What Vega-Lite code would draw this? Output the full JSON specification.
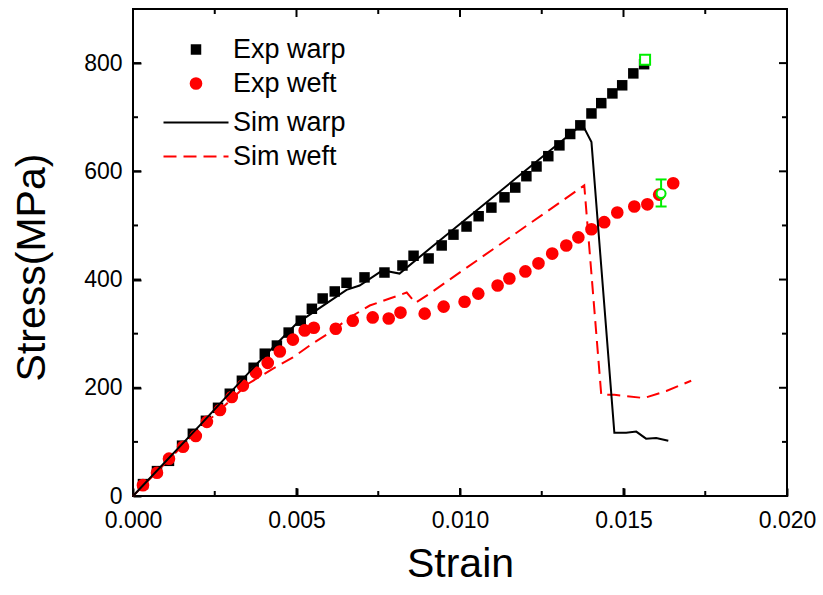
{
  "$schema": "https://vega.github.io/schema/vega-lite/v6.json",
  "width": 654,
  "height": 487,
  "autosize": {"type": "none"},
  "padding": {"left": 133, "top": 9, "right": 36, "bottom": 99},
  "background": "white",
  "datasets": {
    "warpExp": [
      {"series": "Exp warp", "strain": 0.000305, "stress": 22}, {"series": "Exp warp", "strain": 0.000733, "stress": 46}, {"series": "Exp warp", "strain": 0.0011, "stress": 65},
      {"series": "Exp warp", "strain": 0.0015, "stress": 93}, {"series": "Exp warp", "strain": 0.00183, "stress": 115}, {"series": "Exp warp", "strain": 0.00223, "stress": 139},
      {"series": "Exp warp", "strain": 0.0026, "stress": 163}, {"series": "Exp warp", "strain": 0.00296, "stress": 189}, {"series": "Exp warp", "strain": 0.00333, "stress": 213},
      {"series": "Exp warp", "strain": 0.00369, "stress": 237}, {"series": "Exp warp", "strain": 0.00403, "stress": 263}, {"series": "Exp warp", "strain": 0.0044, "stress": 278},
      {"series": "Exp warp", "strain": 0.00476, "stress": 302}, {"series": "Exp warp", "strain": 0.00513, "stress": 324}, {"series": "Exp warp", "strain": 0.00547, "stress": 346},
      {"series": "Exp warp", "strain": 0.0058, "stress": 365}, {"series": "Exp warp", "strain": 0.00617, "stress": 378}, {"series": "Exp warp", "strain": 0.00653, "stress": 394},
      {"series": "Exp warp", "strain": 0.00708, "stress": 404}, {"series": "Exp warp", "strain": 0.00769, "stress": 413}, {"series": "Exp warp", "strain": 0.00824, "stress": 426},
      {"series": "Exp warp", "strain": 0.00858, "stress": 444}, {"series": "Exp warp", "strain": 0.00904, "stress": 439}, {"series": "Exp warp", "strain": 0.00944, "stress": 463},
      {"series": "Exp warp", "strain": 0.0098, "stress": 483}, {"series": "Exp warp", "strain": 0.0102, "stress": 498}, {"series": "Exp warp", "strain": 0.01057, "stress": 517},
      {"series": "Exp warp", "strain": 0.01096, "stress": 533}, {"series": "Exp warp", "strain": 0.01136, "stress": 552}, {"series": "Exp warp", "strain": 0.01169, "stress": 570},
      {"series": "Exp warp", "strain": 0.01203, "stress": 591}, {"series": "Exp warp", "strain": 0.01234, "stress": 609}, {"series": "Exp warp", "strain": 0.0127, "stress": 628},
      {"series": "Exp warp", "strain": 0.01304, "stress": 648}, {"series": "Exp warp", "strain": 0.01337, "stress": 669}, {"series": "Exp warp", "strain": 0.01368, "stress": 685},
      {"series": "Exp warp", "strain": 0.01402, "stress": 707}, {"series": "Exp warp", "strain": 0.01432, "stress": 726}, {"series": "Exp warp", "strain": 0.01466, "stress": 744},
      {"series": "Exp warp", "strain": 0.01496, "stress": 759}, {"series": "Exp warp", "strain": 0.0153, "stress": 781}, {"series": "Exp warp", "strain": 0.01563, "stress": 798}
    ],
    "weftExp": [
      {"series": "Exp weft", "strain": 0.000305, "stress": 20}, {"series": "Exp weft", "strain": 0.000733, "stress": 43}, {"series": "Exp weft", "strain": 0.0011, "stress": 69},
      {"series": "Exp weft", "strain": 0.00153, "stress": 91}, {"series": "Exp weft", "strain": 0.00192, "stress": 111}, {"series": "Exp weft", "strain": 0.00226, "stress": 137},
      {"series": "Exp weft", "strain": 0.00266, "stress": 159}, {"series": "Exp weft", "strain": 0.00302, "stress": 183}, {"series": "Exp weft", "strain": 0.00336, "stress": 204},
      {"series": "Exp weft", "strain": 0.00376, "stress": 228}, {"series": "Exp weft", "strain": 0.00412, "stress": 246}, {"series": "Exp weft", "strain": 0.00449, "stress": 267},
      {"series": "Exp weft", "strain": 0.00489, "stress": 289}, {"series": "Exp weft", "strain": 0.00525, "stress": 306}, {"series": "Exp weft", "strain": 0.00553, "stress": 311},
      {"series": "Exp weft", "strain": 0.0062, "stress": 309}, {"series": "Exp weft", "strain": 0.00672, "stress": 324}, {"series": "Exp weft", "strain": 0.00733, "stress": 330},
      {"series": "Exp weft", "strain": 0.00782, "stress": 328}, {"series": "Exp weft", "strain": 0.00818, "stress": 339}, {"series": "Exp weft", "strain": 0.00892, "stress": 337},
      {"series": "Exp weft", "strain": 0.0095, "stress": 350}, {"series": "Exp weft", "strain": 0.01014, "stress": 359}, {"series": "Exp weft", "strain": 0.01056, "stress": 374},
      {"series": "Exp weft", "strain": 0.01115, "stress": 389}, {"series": "Exp weft", "strain": 0.01151, "stress": 402}, {"series": "Exp weft", "strain": 0.012, "stress": 415},
      {"series": "Exp weft", "strain": 0.0124, "stress": 430}, {"series": "Exp weft", "strain": 0.01282, "stress": 448}, {"series": "Exp weft", "strain": 0.01325, "stress": 463},
      {"series": "Exp weft", "strain": 0.01362, "stress": 478}, {"series": "Exp weft", "strain": 0.01402, "stress": 493}, {"series": "Exp weft", "strain": 0.01441, "stress": 506},
      {"series": "Exp weft", "strain": 0.01481, "stress": 524}, {"series": "Exp weft", "strain": 0.01533, "stress": 535}, {"series": "Exp weft", "strain": 0.01573, "stress": 539},
      {"series": "Exp weft", "strain": 0.01609, "stress": 557}, {"series": "Exp weft", "strain": 0.01652, "stress": 578}
    ],
    "warpSim": [
      {"series": "Sim warp", "strain": 0, "stress": 0}, {"series": "Sim warp", "strain": 0.00205, "stress": 131},
      {"series": "Sim warp", "strain": 0.00388, "stress": 250}, {"series": "Sim warp", "strain": 0.00501, "stress": 319},
      {"series": "Sim warp", "strain": 0.00653, "stress": 381}, {"series": "Sim warp", "strain": 0.00693, "stress": 389},
      {"series": "Sim warp", "strain": 0.00763, "stress": 417}, {"series": "Sim warp", "strain": 0.00815, "stress": 411},
      {"series": "Sim warp", "strain": 0.00907, "stress": 457}, {"series": "Sim warp", "strain": 0.01374, "stress": 687},
      {"series": "Sim warp", "strain": 0.01402, "stress": 654}, {"series": "Sim warp", "strain": 0.01472, "stress": 117},
      {"series": "Sim warp", "strain": 0.01508, "stress": 117}, {"series": "Sim warp", "strain": 0.01539, "stress": 119},
      {"series": "Sim warp", "strain": 0.01569, "stress": 106}, {"series": "Sim warp", "strain": 0.016, "stress": 107},
      {"series": "Sim warp", "strain": 0.01637, "stress": 102}
    ],
    "weftSim": [
      {"series": "Sim weft", "strain": 0, "stress": 0}, {"series": "Sim weft", "strain": 0.00174, "stress": 107}, {"series": "Sim weft", "strain": 0.00296, "stress": 176},
      {"series": "Sim weft", "strain": 0.00351, "stress": 207}, {"series": "Sim weft", "strain": 0.00427, "stress": 235}, {"series": "Sim weft", "strain": 0.00489, "stress": 256},
      {"series": "Sim weft", "strain": 0.00547, "stress": 281}, {"series": "Sim weft", "strain": 0.00602, "stress": 302}, {"series": "Sim weft", "strain": 0.00663, "stress": 330},
      {"series": "Sim weft", "strain": 0.00724, "stress": 352}, {"series": "Sim weft", "strain": 0.00785, "stress": 365}, {"series": "Sim weft", "strain": 0.00837, "stress": 376},
      {"series": "Sim weft", "strain": 0.00864, "stress": 357}, {"series": "Sim weft", "strain": 0.00907, "stress": 374}, {"series": "Sim weft", "strain": 0.0138, "stress": 574},
      {"series": "Sim weft", "strain": 0.01432, "stress": 187}, {"series": "Sim weft", "strain": 0.01472, "stress": 187}, {"series": "Sim weft", "strain": 0.01563, "stress": 181},
      {"series": "Sim weft", "strain": 0.01631, "stress": 194}, {"series": "Sim weft", "strain": 0.01707, "stress": 213}
    ],
    "greenSquare": [{"strain": 0.01566, "stress": 806}],
    "greenCircle": [{"strain": 0.01615, "stress": 559, "lo": 535, "hi": 585}],
    "xMajor": [{"v": 0.005}, {"v": 0.01}, {"v": 0.015}],
    "xMinor": [{"v": 0.0025}, {"v": 0.0075}, {"v": 0.0125}, {"v": 0.0175}],
    "yMajor": [{"v": 200}, {"v": 400}, {"v": 600}, {"v": 800}],
    "yMinor": [{"v": 100}, {"v": 300}, {"v": 500}, {"v": 700}]
  },
  "resolve": {"scale": {"color": "independent"}, "axis": {"x": "independent", "y": "independent"}},
  "layer": [
    {
      "data": {"name": "xMajor"},
      "mark": {"type": "rule", "color": "black", "strokeWidth": 2, "y2Offset": -8},
      "encoding": {
        "x": {"field": "v", "type": "quantitative", "axis": null},
        "y": {"datum": 0, "type": "quantitative", "axis": null},
        "y2": {"datum": 0}
      }
    },
    {
      "data": {"name": "xMajor"},
      "mark": {"type": "rule", "color": "black", "strokeWidth": 2, "y2Offset": 8},
      "encoding": {
        "x": {"field": "v", "type": "quantitative", "axis": null},
        "y": {"datum": 900, "type": "quantitative", "axis": null},
        "y2": {"datum": 900}
      }
    },
    {
      "data": {"name": "xMinor"},
      "mark": {"type": "rule", "color": "black", "strokeWidth": 2, "y2Offset": -5},
      "encoding": {
        "x": {"field": "v", "type": "quantitative", "axis": null},
        "y": {"datum": 0, "type": "quantitative", "axis": null},
        "y2": {"datum": 0}
      }
    },
    {
      "data": {"name": "xMinor"},
      "mark": {"type": "rule", "color": "black", "strokeWidth": 2, "y2Offset": 5},
      "encoding": {
        "x": {"field": "v", "type": "quantitative", "axis": null},
        "y": {"datum": 900, "type": "quantitative", "axis": null},
        "y2": {"datum": 900}
      }
    },
    {
      "data": {"name": "yMajor"},
      "mark": {"type": "rule", "color": "black", "strokeWidth": 2, "x2Offset": 8},
      "encoding": {
        "y": {"field": "v", "type": "quantitative", "axis": null},
        "x": {"datum": 0, "type": "quantitative", "axis": null},
        "x2": {"datum": 0}
      }
    },
    {
      "data": {"name": "yMajor"},
      "mark": {"type": "rule", "color": "black", "strokeWidth": 2, "x2Offset": -8},
      "encoding": {
        "y": {"field": "v", "type": "quantitative", "axis": null},
        "x": {"datum": 0.02, "type": "quantitative", "axis": null},
        "x2": {"datum": 0.02}
      }
    },
    {
      "data": {"name": "yMinor"},
      "mark": {"type": "rule", "color": "black", "strokeWidth": 2, "x2Offset": 5},
      "encoding": {
        "y": {"field": "v", "type": "quantitative", "axis": null},
        "x": {"datum": 0, "type": "quantitative", "axis": null},
        "x2": {"datum": 0}
      }
    },
    {
      "data": {"name": "yMinor"},
      "mark": {"type": "rule", "color": "black", "strokeWidth": 2, "x2Offset": -5},
      "encoding": {
        "y": {"field": "v", "type": "quantitative", "axis": null},
        "x": {"datum": 0.02, "type": "quantitative", "axis": null},
        "x2": {"datum": 0.02}
      }
    },
    {
      "data": {"name": "warpExp"},
      "mark": {"type": "point", "shape": "square", "filled": true, "size": 110, "opacity": 1},
      "encoding": {
        "x": {"field": "strain", "type": "quantitative", "scale": {"domain": [0, 0.02], "nice": false, "zero": false}, "axis": null},
        "y": {"field": "stress", "type": "quantitative", "scale": {"domain": [0, 900], "nice": false}, "axis": null},
        "color": {"field": "series", "type": "nominal",
          "scale": {"domain": ["Exp warp"], "range": ["black"]},
          "legend": {"orient": "none", "legendX": 49.5, "legendY": 27, "symbolType": "square", "symbolSize": 110}}
      }
    },
    {
      "data": {"name": "weftExp"},
      "mark": {"type": "point", "shape": "circle", "filled": true, "size": 160, "opacity": 1},
      "encoding": {
        "x": {"field": "strain", "type": "quantitative", "axis": null},
        "y": {"field": "stress", "type": "quantitative", "axis": null},
        "color": {"field": "series", "type": "nominal",
          "scale": {"domain": ["Exp weft"], "range": ["red"]},
          "legend": {"orient": "none", "legendX": 49.5, "legendY": 61, "symbolType": "circle", "symbolSize": 160}}
      }
    },
    {
      "data": {"name": "weftSim"},
      "mark": {"type": "line", "strokeWidth": 2, "strokeDash": [13, 7]},
      "encoding": {
        "x": {"field": "strain", "type": "quantitative", "axis": null},
        "y": {"field": "stress", "type": "quantitative", "axis": null},
        "color": {"field": "series", "type": "nominal",
          "scale": {"domain": ["Sim weft"], "range": ["red"]},
          "legend": {"orient": "none", "legendX": 49.5, "legendY": 134, "symbolType": "M-6.5,0H6.5", "symbolSize": 100,
            "symbolStrokeWidth": 2, "symbolDash": [13, 7]}}
      }
    },
    {
      "data": {"name": "warpSim"},
      "mark": {"type": "line", "strokeWidth": 2},
      "encoding": {
        "x": {"field": "strain", "type": "quantitative",
          "axis": {"orient": "bottom", "values": [0, 0.005, 0.01, 0.015, 0.02], "format": ".3f", "title": "Strain",
            "ticks": true, "tickSize": 8, "offset": -8, "labelPadding": 13, "titlePadding": 12, "labelFlush": false, "labelOverlap": false}},
        "y": {"field": "stress", "type": "quantitative",
          "axis": {"orient": "left", "values": [0, 200, 400, 600, 800], "title": "Stress(MPa)", "titleY": 258,
            "ticks": true, "tickSize": 8, "offset": -8, "labelPadding": 11, "titlePadding": 30, "labelOverlap": false}},
        "color": {"field": "series", "type": "nominal",
          "scale": {"domain": ["Sim warp"], "range": ["black"]},
          "legend": {"orient": "none", "legendX": 49.5, "legendY": 100, "symbolType": "M-6.5,0H6.5", "symbolSize": 100,
            "symbolStrokeWidth": 2}}
      }
    },
    {
      "data": {"name": "greenSquare"},
      "mark": {"type": "point", "shape": "square", "filled": true, "fill": "white", "stroke": "#00ee00", "strokeWidth": 2, "size": 100, "opacity": 1},
      "encoding": {
        "x": {"field": "strain", "type": "quantitative", "axis": null},
        "y": {"field": "stress", "type": "quantitative", "axis": null}
      }
    },
    {
      "data": {"name": "greenCircle"},
      "mark": {"type": "rule", "color": "#00ee00", "strokeWidth": 2},
      "encoding": {
        "x": {"field": "strain", "type": "quantitative", "axis": null},
        "y": {"field": "lo", "type": "quantitative", "axis": null},
        "y2": {"field": "hi"}
      }
    },
    {
      "data": {"name": "greenCircle"},
      "mark": {"type": "tick", "orient": "horizontal", "color": "#00ee00", "thickness": 2, "size": 11, "opacity": 1},
      "encoding": {
        "x": {"field": "strain", "type": "quantitative", "axis": null},
        "y": {"field": "lo", "type": "quantitative", "axis": null}
      }
    },
    {
      "data": {"name": "greenCircle"},
      "mark": {"type": "tick", "orient": "horizontal", "color": "#00ee00", "thickness": 2, "size": 11, "opacity": 1},
      "encoding": {
        "x": {"field": "strain", "type": "quantitative", "axis": null},
        "y": {"field": "hi", "type": "quantitative", "axis": null}
      }
    },
    {
      "data": {"name": "greenCircle"},
      "mark": {"type": "point", "shape": "circle", "filled": true, "fill": "white", "stroke": "#00ee00", "strokeWidth": 2, "size": 80, "opacity": 1},
      "encoding": {
        "x": {"field": "strain", "type": "quantitative", "axis": null},
        "y": {"field": "stress", "type": "quantitative", "axis": null}
      }
    }
  ],
  "config": {
    "view": {"stroke": "black", "strokeWidth": 2},
    "legend": {
      "title": null, "padding": 0, "labelFont": "Liberation Sans", "labelFontSize": 27, "labelColor": "black",
      "labelOffset": 23.5, "labelLimit": 300
    },
    "axis": {
      "domain": false, "grid": false, "ticks": true, "tickColor": "black", "tickWidth": 2, "tickOpacity": 1, "zindex": 1,
      "labelFont": "Liberation Sans", "labelFontSize": 23, "labelColor": "black",
      "titleFont": "Liberation Sans", "titleFontSize": 41, "titleFontWeight": "normal", "titleColor": "black"
    }
  }
}
